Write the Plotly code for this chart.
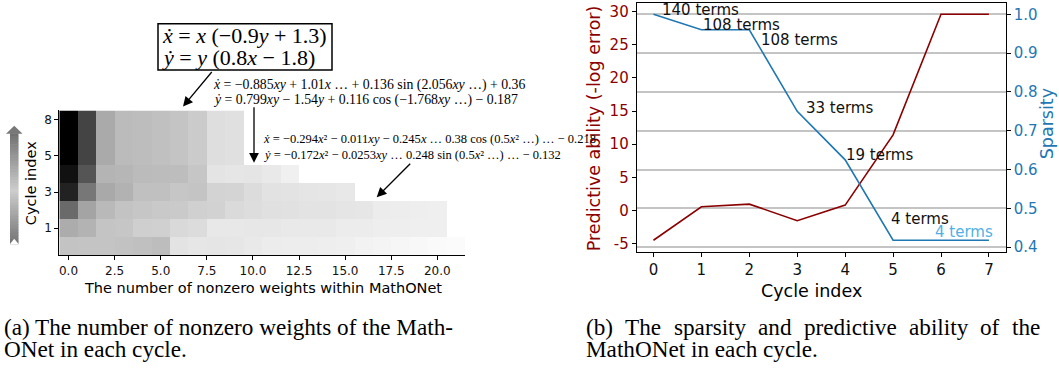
import plotly.graph_objects as go

W, H = 1059, 368

# ---------------- data: panel (a) heatmap ----------------
# grey level of each cell (0 = black, 255 = white), one list per cycle row (bottom -> top)
gray_row0 = [195, 196, 196, 194, 192, 189, 227, 230, 229, 230, 233, 236, 237, 237, 238, 239, 242, 244, 246, 248, 250, 251]
gray_row1 = [172, 179, 196, 198, 207, 208, 217, 220, 232, 232, 231, 231, 233, 233, 233, 236, 236, 238, 238, 239, 239]
gray_row2 = [106, 164, 185, 195, 198, 201, 202, 208, 210, 218, 221, 224, 225, 227, 227, 229, 230, 236, 237, 238, 239]
gray_row3 = [34, 119, 169, 178, 192, 192, 198, 196, 211, 212, 220, 226, 227, 229, 230, 232]
gray_row4 = [17, 85, 180, 182, 187, 188, 189, 198, 228, 230, 229, 233, 240]
gray_row5 = [0, 68, 170, 187, 189, 192, 196, 203, 222, 224]
gray_row6 = [0, 68, 170, 187, 189, 192, 196, 203, 222, 224]
gray_row7 = [0, 68, 170, 187, 189, 192, 196, 203, 222, 224]
heat_rows = [gray_row0, gray_row1, gray_row2, gray_row3, gray_row4, gray_row5, gray_row6, gray_row7]
n_weight_cols = 22
heat_x_ticks = [0, 2.5, 5, 7.5, 10, 12.5, 15, 17.5, 20]
heat_x_labels = ["0.0", "2.5", "5.0", "7.5", "10.0", "12.5", "15.0", "17.5", "20.0"]
heat_y_ticks = [1, 3, 5, 7]
heat_y_labels = ["1", "3", "5", "8"]

# ---------------- data: panel (b) ----------------
cycles = [0, 1, 2, 3, 4, 5, 6, 7]
predictive = [-4.5, 0.55, 0.95, -1.55, 0.8, 11.4, 29.6, 29.6]
sparsity = [1.0, 0.96, 0.96, 0.75, 0.625, 0.418, 0.418, 0.418]
pred_ticks = [-5, 0, 5, 10, 15, 20, 25, 30]
pred_labels = ["-5", "0", "5", "10", "15", "20", "25", "30"]
spars_ticks = [0.4, 0.5, 0.6, 0.7, 0.8, 0.9, 1.0]
spars_labels = ["0.4", "0.5", "0.6", "0.7", "0.8", "0.9", "1.0"]
term_labels = ["140 terms", "108 terms", "108 terms", "33 terms", "19 terms", "4 terms", "4 terms"]
term_label_cycle = [0, 1, 2, 3, 4, 5, 6]

RED = "#8b0000"
BLUE = "#1f77b4"
LIGHTBLUE = "#4fb0e5"
SANS = "DejaVu Sans"
SERIF = "Liberation Serif"


def px(x):
    return x / W


def py(y):
    return 1 - y / H


def span_range(vals):
    lo, hi = min(vals), max(vals)
    m = 0.05 * (hi - lo)
    return [lo - m, hi + m]


z = []
for r in heat_rows:
    z.append(list(r) + [None] * (n_weight_cols - len(r)))

fig = go.Figure()
fig.add_trace(go.Heatmap(
    z=z, x=list(range(n_weight_cols)), y=list(range(len(heat_rows))),
    colorscale=[[0, "rgb(0,0,0)"], [1, "rgb(255,255,255)"]], zmin=0, zmax=255,
    showscale=False, xaxis="x", yaxis="y", hoverongaps=False))
fig.add_trace(go.Scatter(x=cycles, y=predictive, mode="lines",
                         line=dict(color=RED, width=1.6), xaxis="x2", yaxis="y2"))
fig.add_trace(go.Scatter(x=cycles, y=sparsity, mode="lines",
                         line=dict(color=BLUE, width=1.6), xaxis="x2", yaxis="y3"))

ax_common = dict(showline=True, linecolor="black", linewidth=1, ticks="outside", ticklen=4,
                 tickcolor="black", zeroline=False, showgrid=False)

fig.update_layout(
    width=W, height=H, margin=dict(l=0, r=0, t=0, b=0),
    paper_bgcolor="white", plot_bgcolor="white", showlegend=False,
    xaxis=dict(domain=[px(59.3), px(465)], range=[-0.5, 21.5], anchor="y",
               tickvals=heat_x_ticks, ticktext=heat_x_labels,
               tickfont=dict(family=SANS, size=12, color="#111"), **ax_common),
    yaxis=dict(domain=[py(259), py(112)], range=[-0.5, 7.5], anchor="x",
               tickvals=heat_y_ticks, ticktext=heat_y_labels,
               tickfont=dict(family=SANS, size=12, color="#111"), **ax_common),
    xaxis2=dict(domain=[px(636.7), px(1005.7)], range=[-0.35, 7.35], anchor="y2", mirror=True,
                tickvals=cycles, tickfont=dict(family=SANS, size=15, color="#111"), **ax_common),
    yaxis2=dict(domain=[py(255), py(3)], range=span_range(predictive), anchor="x2",
                tickvals=pred_ticks, ticktext=pred_labels,
                tickfont=dict(family=SANS, size=15, color=RED), **ax_common),
    yaxis3=dict(range=span_range(sparsity), overlaying="y2", side="right", anchor="x2",
                tickvals=spars_ticks, ticktext=spars_labels,
                tickfont=dict(family=SANS, size=15, color=BLUE),
                showline=True, linecolor="black", linewidth=1, ticks="outside", ticklen=4,
                tickcolor="black", zeroline=False, showgrid=True, gridcolor="#c4c4c4", gridwidth=1.5),
)

ann = []


def text_at(x, y, s, size, family=SANS, color="black", xanchor="left", angle=0):
    ann.append(dict(x=px(x), y=py(y), xref="paper", yref="paper", text=s, showarrow=False,
                    xanchor=xanchor, yanchor="middle", textangle=angle,
                    font=dict(family=family, size=size, color=color)))


# axis titles
text_at(262.5, 292, "The number of nonzero weights within MathONet", 14.5, xanchor="center")
text_at(31.7, 186, "Cycle index", 14.5, xanchor="center", angle=-90)
text_at(811.7, 295, "Cycle index", 17.5, xanchor="center")
text_at(594, 130, "Predictive ability (-log error)", 17.5, color=RED, xanchor="center", angle=-90)
text_at(1047, 126, "Sparsity", 17.5, color=BLUE, xanchor="center", angle=-90)

# term labels in panel (b)
term_shift = [(7, 4.7), (0, 4.5), (9.7, -10), (6.4, 3.8), (-1.4, 4.6), (-4.3, 21), (-7.8, 8.4)]
for i, (lab, c) in enumerate(zip(term_labels, term_label_cycle)):
    ann.append(dict(x=cycles[c], y=sparsity[c], xref="x2", yref="y3", text=lab, showarrow=False,
                    xanchor="left", yanchor="middle", xshift=term_shift[i][0], yshift=term_shift[i][1],
                    font=dict(family=SANS, size=15, color=LIGHTBLUE if i == 6 else "#111")))

# equations
text_at(160, 36, "<i>ẋ</i> = <i>x</i> (−0.9<i>y</i> + 1.3)", 22, family=SERIF)
text_at(160, 58, "<i>ẏ</i> = <i>y</i> (0.8<i>x</i> − 1.8)", 22, family=SERIF)
text_at(211, 86, "<i>ẋ</i> = −0.885<i>xy</i> + 1.01<i>x</i> … + 0.136 sin (2.056<i>xy</i> …) + 0.36", 13.8, family=SERIF)
text_at(211, 101, "<i>ẏ</i> = 0.799<i>xy</i> − 1.54<i>y</i> + 0.116 cos (−1.768<i>xy</i> …) − 0.187", 13.8, family=SERIF)
text_at(261, 141, "<i>ẋ</i> = −0.294<i>x</i>² − 0.011<i>xy</i> − 0.245<i>x</i> … 0.38 cos (0.5<i>x</i>² …) … − 0.218", 12.5, family=SERIF)
text_at(261, 157, "<i>ẏ</i> = −0.172<i>x</i>² − 0.0253<i>xy</i> … 0.248 sin (0.5<i>x</i>² …) … − 0.132", 12.5, family=SERIF)

# arrows


def arrow(hx, hy, tx, ty):
    ann.append(dict(x=px(hx), y=py(hy), xref="paper", yref="paper", text="", showarrow=True,
                    ax=tx - hx, ay=ty - hy, arrowhead=2, arrowsize=1.5, arrowwidth=1.3,
                    arrowcolor="black", standoff=0))


arrow(183, 108, 213, 72)
arrow(254, 165, 254, 108)
arrow(376.7, 200, 411.7, 165)

# captions
CAP = 23.2
text_at(2, 331, "(a) The number of nonzero weights of the Math-", CAP, family=SERIF)
text_at(2, 354, "ONet in each cycle.", CAP, family=SERIF)
text_at(584, 354, "MathONet in each cycle.", CAP, family=SERIF)

TW = {"(": 333, ")": 333, "b": 500, "T": 611, "h": 500, "e": 444, "s": 389, "p": 500, "a": 444,
      "r": 333, "i": 278, "t": 278, "y": 500, "n": 500, "d": 500, "c": 444, "v": 500, "l": 278,
      "o": 500, "f": 333}
words = "(b) The sparsity and predictive ability of the".split()
wid = [sum(TW[ch] for ch in w) / 1000 * CAP for w in words]
x0, x1 = 584, 1038
gap = (x1 - x0 - sum(wid)) / (len(words) - 1)
cx = x0
for w, ww in zip(words, wid):
    text_at(cx, 331, w, CAP, family=SERIF)
    cx += ww + gap

shapes = []
# equation box
shapes.append(dict(type="rect", xref="paper", yref="paper", x0=px(158), x1=px(332), y0=py(71), y1=py(24),
                   line=dict(color="black", width=1.5), fillcolor="rgba(0,0,0,0)"))
# gradient arrow next to the y axis of panel (a)
top, bot = 135.0, 247.0
n = 40
for k in range(n):
    t = (k + 0.5) / n
    g = 112 + (205 - 112) * (1 - abs(t - 0.52) / 0.52) if t < 0.52 else 205 - (205 - 115) * (t - 0.52) / 0.48
    g = int(round(g))
    ya = top + (bot - top) * k / n
    yb = top + (bot - top) * (k + 1) / n + 0.6
    shapes.append(dict(type="rect", xref="paper", yref="paper", x0=px(10), x1=px(18.5),
                       y0=py(yb), y1=py(ya), line=dict(width=0), fillcolor=f"rgb({g},{g},{g})"))
shapes.append(dict(type="path", xref="paper", yref="paper",
                   path=f"M {px(6)},{py(135.5)} L {px(14.25)},{py(127.5)} L {px(22.5)},{py(135.5)} Z",
                   line=dict(width=0), fillcolor="rgb(120,120,120)"))
shapes.append(dict(type="path", xref="paper", yref="paper",
                   path=f"M {px(9.8)},{py(247.5)} L {px(14.25)},{py(242)} L {px(18.7)},{py(247.5)} Z",
                   line=dict(width=0), fillcolor="white"))

fig.update_layout(annotations=ann, shapes=shapes)
fig.write_html("out.html", config={"displayModeBar": False},
               post_script="document.body.style.margin='0';document.body.style.overflow='hidden';")
